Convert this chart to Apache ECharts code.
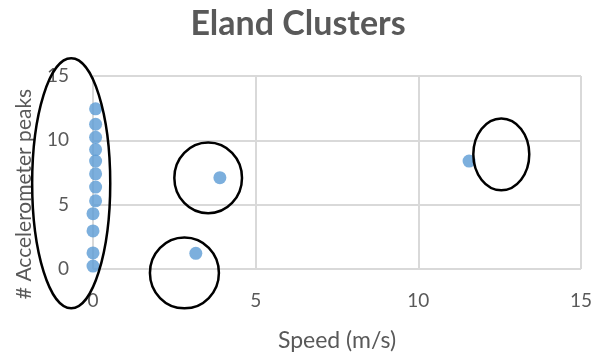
<!DOCTYPE html>
<html>
<head>
<meta charset="utf-8">
<script src="https://cdn.jsdelivr.net/npm/echarts@6/dist/echarts.min.js"></script>
<style>
  html, body { margin: 0; padding: 0; background: #fff; }
  #chart { width: 596px; height: 357px; }
</style>
</head>
<body>
<div id="chart"></div>
<script>
// Speed (m/s) and accelerometer peak counts per observation
const speeds = [0.08, 0.08, 0.08, 0.08, 0.08, 0.08, 0.08, 0.08, 0, 0, 0, 0, 3.9, 3.16, 11.56];
const peaks  = [12.45, 11.25, 10.23, 9.28, 8.39, 7.4, 6.37, 5.3, 4.3, 2.96, 1.25, 0.23, 7.1, 1.22, 8.39];

// Cluster outlines in data units: centre x, centre y, half-width, half-height
const clusterCx = [-0.67, 3.54, 2.81, 12.55];
const clusterCy = [6.66, 7.08, -0.31, 8.91];
const clusterRx = [1.2, 1.04, 1.06, 0.86];
const clusterRy = [9.72, 2.75, 2.75, 2.79];

const xTicks = { min: 0, max: 15, interval: 5 };
const yTicks = { min: 0, max: 15, interval: 5 };

const textColor = '#595959';
const gridColor = '#d9d9d9';
const font = 'Lato, "Open Sans", sans-serif';

const chart = echarts.init(document.getElementById('chart'), null, { renderer: 'canvas' });

const points = speeds.map((s, i) => [s, peaks[i]]);

chart.setOption({
  animation: false,
  backgroundColor: '#fff',
  title: {
    text: 'Eland Clusters',
    left: 'center',
    top: 2,
    textStyle: { fontFamily: font, fontWeight: 'bold', fontSize: 34, color: textColor }
  },
  grid: { left: 93, right: 15, top: 76, bottom: 85, containLabel: false },
  xAxis: {
    type: 'value',
    min: xTicks.min, max: xTicks.max, interval: xTicks.interval,
    name: 'Speed (m/s)',
    nameLocation: 'middle',
    nameGap: 60,
    nameTextStyle: { fontFamily: font, fontSize: 23, color: textColor },
    axisLine: { show: false },
    axisTick: { show: false },
    axisLabel: { fontFamily: font, fontSize: 19, color: textColor, margin: 22 },
    splitLine: { show: true, lineStyle: { color: gridColor, width: 2 } }
  },
  yAxis: {
    type: 'value',
    min: yTicks.min, max: yTicks.max, interval: yTicks.interval,
    axisLine: { show: false },
    axisTick: { show: false },
    axisLabel: { fontFamily: font, fontSize: 19, color: textColor, margin: 24 },
    splitLine: { show: true, lineStyle: { color: gridColor, width: 2 } }
  },
  series: [{
    type: 'scatter',
    data: points,
    symbol: 'circle',
    symbolSize: 13,
    itemStyle: { color: '#5b9bd5' },
    z: 3
  }]
});

// Overlay: rotated y-axis title and the cluster ellipses placed from data coordinates
function drawOverlay() {
  const elements = [{
    type: 'text',
    x: 24,
    y: 194,
    rotation: Math.PI / 2,
    style: {
      text: '# Accelerometer peaks',
      font: '21px ' + font,
      fill: textColor,
      align: 'center',
      verticalAlign: 'middle'
    },
    z: 50
  }];
  clusterCx.forEach((cx, i) => {
    const c = chart.convertToPixel({ gridIndex: 0 }, [cx, clusterCy[i]]);
    const e = chart.convertToPixel({ gridIndex: 0 }, [cx + clusterRx[i], clusterCy[i] + clusterRy[i]]);
    elements.push({
      type: 'ellipse',
      shape: { cx: c[0], cy: c[1], rx: Math.abs(e[0] - c[0]), ry: Math.abs(c[1] - e[1]) },
      style: { fill: 'none', stroke: '#000', lineWidth: 2.5 },
      z: 100
    });
  });
  chart.setOption({ graphic: { elements: elements } });
}
drawOverlay();
</script>
</body>
</html>
